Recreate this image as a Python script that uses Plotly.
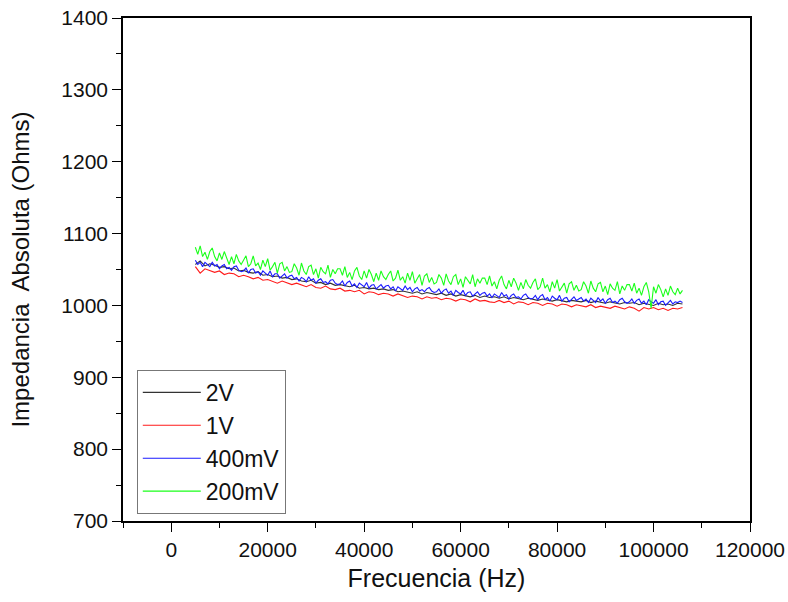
import plotly.graph_objects as go

# Frequency grids (Hz)
freq_fine = list(range(5000, 106001, 500))     # 400mV, 200mV
freq_coarse = list(range(5000, 106001, 1000))  # 2V, 1V

v2 = [1057, 1062, 1055, 1058, 1056, 1053, 1054, 1051, 1052, 1048,
      1049, 1046, 1045, 1047, 1042, 1043, 1040, 1041, 1038, 1039,
      1036, 1037, 1034, 1033, 1035, 1031, 1032, 1029, 1031, 1028,
      1029, 1027, 1026, 1028, 1024, 1025, 1023, 1024, 1022, 1023,
      1021, 1022, 1019, 1020, 1019, 1017, 1019, 1016, 1018, 1017,
      1015, 1017, 1014, 1016, 1013, 1015, 1014, 1012, 1014, 1011,
      1013, 1011, 1012, 1010, 1012, 1009, 1011, 1010, 1008, 1010,
      1009, 1007, 1009, 1008, 1006, 1008, 1007, 1005, 1007, 1006,
      1005, 1007, 1004, 1006, 1005, 1003, 1005, 1004, 1002, 1004,
      1003, 1004, 1001, 1003, 1002, 1000, 1003, 1001, 1002, 1000,
      1003, 1002]

v1 = [1054, 1045, 1051, 1049, 1046, 1048, 1043, 1045, 1044, 1040,
      1042, 1040, 1037, 1039, 1035, 1036, 1034, 1031, 1034, 1032,
      1029, 1031, 1028, 1026, 1029, 1025, 1024, 1027, 1023, 1022,
      1024, 1020, 1021, 1019, 1021, 1016, 1019, 1018, 1015, 1017,
      1016, 1013, 1016, 1014, 1011, 1013, 1012, 1009, 1012, 1010,
      1011, 1008, 1010, 1009, 1006, 1009, 1008, 1005, 1009, 1006,
      1007, 1005, 1004, 1007, 1004, 1006, 1002, 1005, 1004, 1001,
      1004, 1003, 1000, 1003, 1002, 999, 1002, 1001, 998, 1001,
      1000, 998, 1001, 997, 999, 998, 996, 999, 997, 995,
      998, 996, 992, 997, 995, 997, 994, 996, 993, 996,
      995, 997]

v400 = [1063, 1057, 1060, 1054, 1060, 1057, 1054, 1060, 1055, 1057, 1051, 1055, 1057, 1051, 1053, 1049, 1054, 1055, 1049, 1047,
        1048, 1052, 1045, 1050, 1051, 1045, 1047, 1042, 1048, 1045, 1042, 1048, 1040, 1044, 1044, 1038, 1041, 1044, 1038, 1041,
        1042, 1037, 1039, 1034, 1039, 1037, 1033, 1040, 1035, 1037, 1031, 1035, 1037, 1032, 1033, 1030, 1035, 1036, 1031, 1029,
        1030, 1034, 1027, 1032, 1034, 1027, 1030, 1025, 1031, 1028, 1026, 1032, 1024, 1028, 1029, 1023, 1026, 1029, 1024, 1027,
        1028, 1023, 1026, 1020, 1026, 1024, 1021, 1027, 1022, 1025, 1019, 1023, 1025, 1020, 1022, 1019, 1023, 1025, 1020, 1018,
        1019, 1023, 1017, 1021, 1023, 1017, 1020, 1014, 1021, 1018, 1016, 1021, 1014, 1018, 1019, 1013, 1016, 1019, 1014, 1017,
        1018, 1013, 1016, 1011, 1016, 1014, 1011, 1018, 1013, 1015, 1009, 1014, 1016, 1011, 1012, 1009, 1014, 1016, 1011, 1009,
        1010, 1014, 1008, 1013, 1015, 1008, 1011, 1006, 1013, 1010, 1008, 1014, 1006, 1010, 1011, 1005, 1009, 1012, 1007, 1009,
        1011, 1006, 1009, 1004, 1010, 1007, 1004, 1011, 1006, 1009, 1003, 1008, 1010, 1004, 1006, 1003, 1008, 1010, 1005, 1003,
        1005, 1009, 1003, 1007, 1009, 1003, 1006, 1001, 1008, 1005, 1003, 1008, 1001, 1005, 1006, 1000, 1004, 1007, 1002, 1005,
        1004, 1006, 1004]

v200 = [1081, 1071, 1083, 1068, 1074, 1064, 1075, 1080, 1068, 1062, 1073, 1064, 1075, 1067, 1057, 1068, 1058, 1071, 1062, 1057,
        1064, 1069, 1054, 1058, 1069, 1055, 1059, 1050, 1063, 1054, 1065, 1049, 1054, 1060, 1045, 1058, 1060, 1048, 1054, 1046,
        1047, 1058, 1052, 1042, 1059, 1048, 1043, 1054, 1056, 1043, 1051, 1038, 1053, 1047, 1044, 1056, 1039, 1050, 1044, 1051,
        1051, 1042, 1054, 1039, 1046, 1036, 1048, 1053, 1041, 1036, 1048, 1038, 1050, 1043, 1033, 1045, 1035, 1048, 1040, 1036,
        1043, 1048, 1034, 1038, 1049, 1035, 1040, 1031, 1045, 1035, 1047, 1031, 1037, 1043, 1028, 1041, 1044, 1032, 1039, 1030,
        1032, 1043, 1038, 1028, 1044, 1034, 1029, 1040, 1043, 1029, 1037, 1025, 1040, 1034, 1030, 1043, 1026, 1037, 1031, 1038,
        1038, 1029, 1041, 1027, 1033, 1023, 1035, 1041, 1029, 1023, 1035, 1026, 1038, 1031, 1021, 1032, 1023, 1036, 1028, 1024,
        1032, 1037, 1022, 1026, 1038, 1024, 1029, 1019, 1033, 1024, 1036, 1020, 1026, 1031, 1017, 1030, 1033, 1021, 1028, 1020,
        1022, 1033, 1027, 1017, 1034, 1024, 1019, 1030, 1032, 1019, 1027, 1015, 1030, 1024, 1021, 1033, 1016, 1027, 1021, 1029,
        1029, 1020, 1031, 1017, 1024, 1014, 1026, 1032, 1019, 996, 1026, 1017, 1029, 1022, 1012, 1023, 1014, 1027, 1019, 1015,
        1024, 1016, 1021]

series = [("2V", freq_coarse, v2, "#333333"),
          ("1V", freq_coarse, v1, "#ff1a1a"),
          ("400mV", freq_fine, v400, "#1a1aff"),
          ("200mV", freq_fine, v200, "#1aff1a")]

fig = go.Figure()
for name, xs, vals, col in series:
    fig.add_trace(go.Scatter(x=xs, y=vals, mode="lines", name=name,
                             line=dict(color=col, width=1.1)))

font = "Liberation Sans, Arial, sans-serif"
axis_common = dict(showline=True, mirror=True, linecolor="black", linewidth=1.5,
                   ticks="outside", ticklen=9, tickwidth=1.2, tickcolor="black",
                   showgrid=False, zeroline=False, automargin=False,
                   tickfont=dict(family=font, size=21, color="#111111"))

fig.update_layout(
    width=788, height=602,
    margin=dict(l=123, r=38, t=18, b=81),
    plot_bgcolor="white", paper_bgcolor="white",
    xaxis=dict(range=[-10000, 120000], dtick=20000, tick0=0, tickformat="d",
               minor=dict(dtick=10000, ticks="outside", ticklen=5, tickcolor="black"),
               title=dict(text="Frecuencia (Hz)", font=dict(family=font, size=25, color="#111111"),
                          standoff=10),
               **axis_common),
    yaxis=dict(range=[700, 1400], dtick=100, tick0=700, tickformat="d",
               minor=dict(dtick=50, ticks="outside", ticklen=5, tickcolor="black"),
               title=dict(text="Impedancia\u00a0 Absoluta (Ohms)",
                          font=dict(family=font, size=24, color="#111111"), standoff=25),
               **axis_common),
    legend=dict(x=0.022, y=0.014, xanchor="left", yanchor="bottom",
                bgcolor="white", bordercolor="#777777", borderwidth=1,
                font=dict(family=font, size=23, color="#111111"),
                itemwidth=58),
    showlegend=True,
)

fig.write_html("out.html")
